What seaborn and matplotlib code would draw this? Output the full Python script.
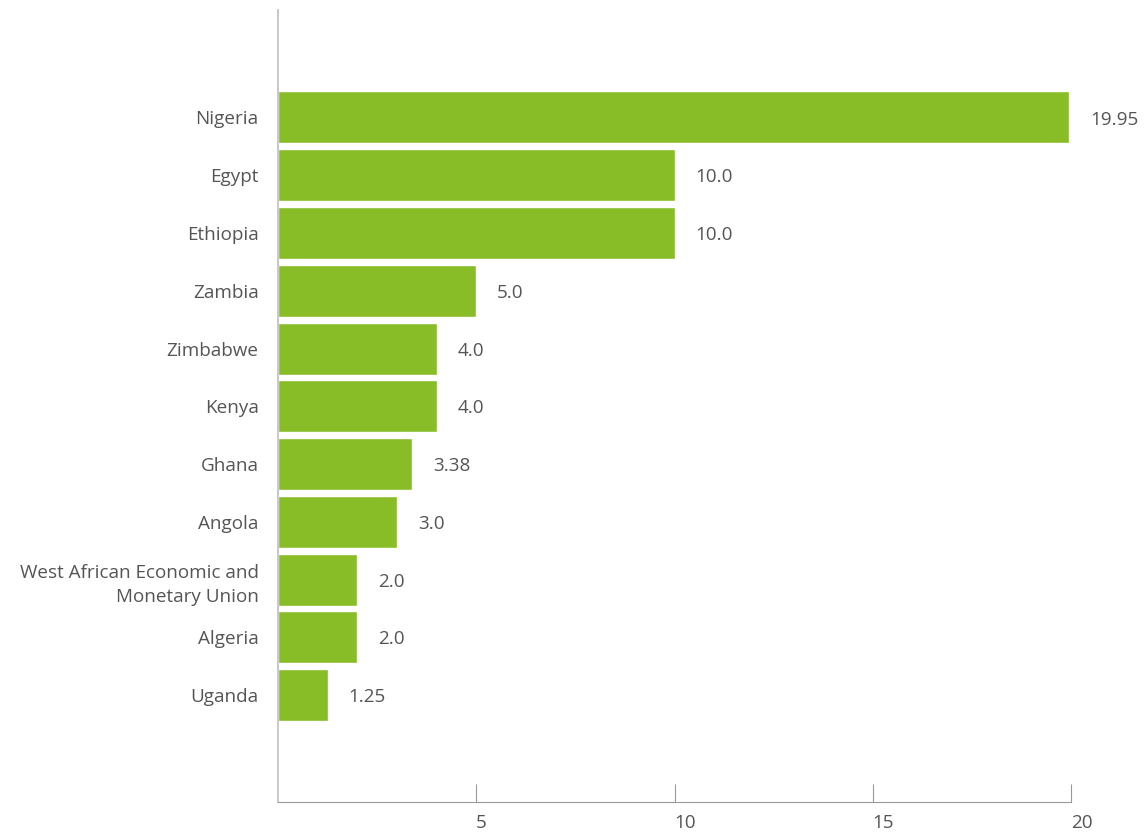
import pandas as pd
import seaborn as sns
import matplotlib.pyplot as plt

countries = ["Nigeria", "Egypt", "Ethiopia", "Zambia", "Zimbabwe", "Kenya",
             "Ghana", "Angola", "West African Economic and\nMonetary Union",
             "Algeria", "Uganda"]
values = [19.95, 10.0, 10.0, 5.0, 4.0, 4.0, 3.38, 3.0, 2.0, 2.0, 1.25]
value_labels = ["19.95", "10.0", "10.0", "5.0", "4.0", "4.0", "3.38", "3.0",
                "2.0", "2.0", "1.25"]
x_ticks = [5, 10, 15, 20]

sns.set_style("white")
plt.rcParams["font.family"] = ["Open Sans", "DejaVu Sans"]

TEXT = "#555555"
GREEN = "#88bd28"
FS = 13.6

df = pd.DataFrame({"country": countries, "value": values})

fig = plt.figure(figsize=(11.46, 8.35), dpi=100)
ax = fig.add_axes([278 / 1146, 1 - 802 / 835, (1071 - 278) / 1146, (802 - 10) / 835])

sns.barplot(data=df, x="value", y="country", orient="h", color=GREEN,
            width=0.9, saturation=1, ax=ax)

for i, (v, lab) in enumerate(zip(values, value_labels)):
    ax.annotate(lab, (v, i), xytext=(15, -1.5), textcoords="offset points",
                ha="left", va="center", fontsize=FS, color=TEXT)

ax.set_xlim(0, 20)
ax.set_ylim(len(countries) - 1 + 1.85, -1.86)
ax.set_xticks(x_ticks)
ax.set_xticklabels([str(t) for t in x_ticks], ha="left")
ax.set_xlabel("")
ax.set_ylabel("")
for t in ax.get_yticklabels():
    t.set_linespacing(1.45)

ax.tick_params(axis="x", bottom=True, direction="in", length=13, width=0.8,
               color="#999999", pad=9, labelsize=FS, labelcolor=TEXT)
ax.tick_params(axis="y", left=False, length=0, pad=14, labelsize=FS,
               labelcolor=TEXT)

for s in ["top", "right"]:
    ax.spines[s].set_visible(False)
ax.spines["left"].set_color("#c8c8c8")
ax.spines["left"].set_linewidth(1.4)
ax.spines["bottom"].set_color("#999999")
ax.spines["bottom"].set_linewidth(0.8)

fig.savefig("out.png", dpi=100)
